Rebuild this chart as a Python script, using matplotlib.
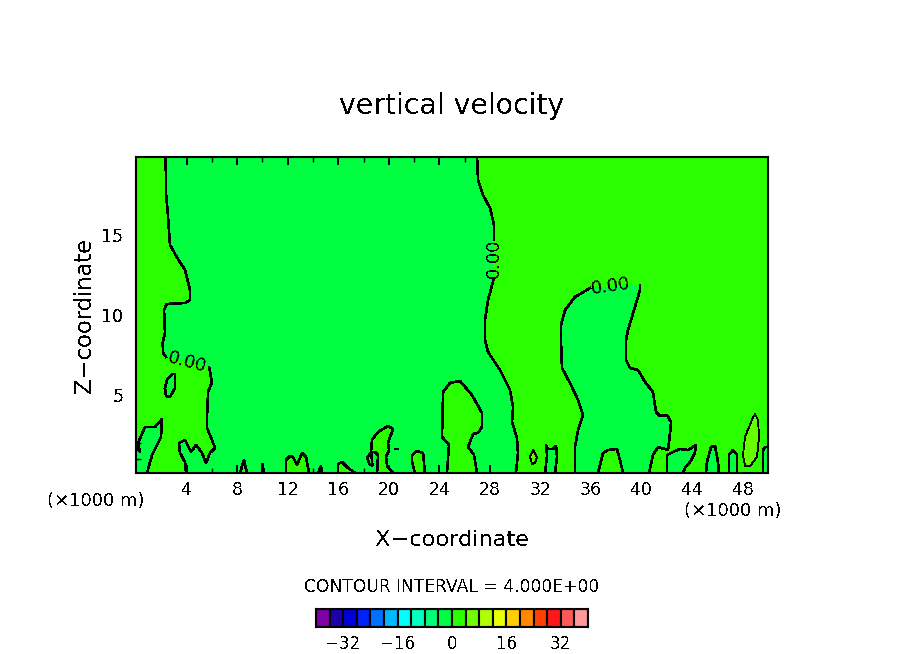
import matplotlib
matplotlib.use('Agg')
import matplotlib.pyplot as plt
import numpy as np

plt.rcParams['font.family'] = 'DejaVu Sans'
plt.rcParams['text.antialiased'] = False

# palette of the 4 m/s classes, -40 to 40
CLASS_COLORS = ['#8000a8', '#1c00a8', '#0000d8', '#0020ff', '#0070ff', '#00b8ff', '#00ffff',
                '#00ffc0', '#00ff78', '#00ff40', '#2aff00', '#70ff00', '#b0ff00', '#e8ff00',
                '#ffd000', '#ff8800', '#ff4000', '#ff1818', '#ff5858', '#ff9898']
NEG_COLOR = '#00ff40'
POS_COLOR = '#2aff00'
POS2_COLOR = '#66ff00'

CBAR_LEVELS = np.arange(-40, 41, 4)
CBAR_TICKS = [-32, -16, 0, 16, 32]
X_MAJOR = list(range(4, 49, 4))
Z_MAJOR = [5, 10, 15]
XLIM = (0, 50)
ZLIM = (0.125, 19.875)

# zero contours (x in km, z in km)
left_upper = [(2.35, 19.875), (2.37, 17.63), (2.51, 16.38), (2.69, 14.38), (3.22, 13.63), (3.88, 12.81),
              (4.27, 11.56), (4.27, 10.94), (3.88, 10.75), (2.43, 10.69), (2.22, 10.31), (2.29, 8.88),
              (2.11, 8.25), (2.14, 7.63), (2.37, 7.38)]
left_lower = [(5.78, 6.75), (6.01, 5.81), (5.70, 5.19), (5.62, 3.63), (5.62, 2.94), (6.01, 2.19),
              (6.25, 1.69), (5.85, 1.38), (5.54, 0.75), (5.22, 1.38), (4.75, 1.88), (4.35, 1.44),
              (3.88, 2.19), (3.40, 2.0), (3.48, 1.38), (3.88, 0.81), (3.96, 0.125)]
left_corner = [(0.87, 0.125), (1.27, 1.25), (1.98, 2.38), (2.06, 3.5), (1.50, 3.0), (0.71, 3.0),
               (0.16, 2.0), (0.32, 1.44), (0, 1.88)]
left_island = [(2.29, 5.44), (2.45, 5.94), (2.85, 6.31), (3.09, 6.31), (3.09, 5.44), (2.69, 4.88),
               (2.37, 4.94), (2.29, 5.44)]

right_upper = [(26.98, 19.875), (27.06, 18.44), (27.45, 17.5), (28.01, 16.69), (28.32, 15.63), (28.32, 14.69)]
right_lower = [(28.32, 12.31), (27.85, 10.94), (27.61, 9.69), (27.61, 8.44), (27.85, 7.69), (28.8, 6.56),
               (29.59, 5.31), (29.83, 4.25), (29.75, 3.31), (30.14, 2.31), (30.22, 1.38), (30.06, 0.125)]

mid_left = [(34.73, 0.125), (34.73, 1.75), (34.97, 2.81), (35.36, 3.75), (34.97, 4.69), (34.34, 5.75),
            (33.7, 6.69), (33.62, 8.44), (33.62, 9.38), (33.94, 10.31), (34.73, 11.13), (35.92, 11.69)]
mid_right = [(39.87, 11.88), (39.87, 11.56), (39.64, 10.94), (38.92, 9.06), (38.77, 8.44), (38.77, 7.19),
             (39.08, 6.69), (39.72, 6.56), (40.27, 5.81), (40.9, 5.19), (41.14, 3.94), (41.46, 3.69),
             (42.01, 3.75), (42.33, 3.31), (42.25, 2.63), (42.09, 1.56), (41.3, 1.75), (40.9, 1.25),
             (40.59, 0.125)]

# small closed cells sitting on the ground
pos_bumps = [
    [(8.23, 0.125), (8.54, 0.94), (8.78, 0.125)],
    [(9.97, 0.125), (10.0, 0.69), (10.13, 0.125)],
    [(11.87, 0.125), (11.87, 0.94), (12.18, 1.19), (12.42, 1.13), (12.74, 0.63), (13.13, 1.38),
     (13.45, 1.13), (13.69, 0.125)],
    [(14.4, 0.125), (14.64, 0.56), (14.72, 0.125)],
    [(15.98, 0.125), (15.98, 0.69), (16.3, 0.81), (16.69, 0.5), (17.33, 0.125)],
    [(19.07, 0.125), (19.15, 1.25), (18.91, 1.44), (18.6, 1.44), (18.3, 1.1), (18.45, 0.7), (18.7, 0.6),
     (18.6, 1.5), (18.67, 2.19), (19.15, 2.69), (19.94, 3.06), (20.33, 2.88), (19.94, 2.0),
     (20.02, 1.56), (19.78, 1.13), (19.86, 0.56), (20.33, 0.125)],
    [(22.07, 0.125), (21.84, 0.81), (21.84, 1.25), (22.23, 1.5), (22.71, 1.38), (22.86, 0.125)],
    [(24.6, 0.125), (24.76, 1.88), (24.21, 2.38), (24.29, 5.19), (24.84, 5.75), (25.63, 5.88),
     (26.58, 5.0), (27.37, 3.88), (27.37, 3.0), (27.06, 2.63), (26.66, 2.56), (26.27, 1.75),
     (26.74, 1.25), (26.98, 0.125)],
    [(36.55, 0.125), (36.95, 1.38), (37.34, 1.56), (38.05, 1.63), (38.29, 0.94), (38.53, 0.125)],
]
neg_bumps = [
    [(32.36, 0.125), (32.52, 1.25), (32.44, 1.88), (32.59, 1.63), (32.99, 1.63), (33.23, 1.81),
     (33.31, 1.13), (33.15, 0.125)],
    [(42.01, 0.125), (42.01, 1.25), (42.48, 1.44), (43.04, 1.63), (43.67, 1.56), (44.3, 1.88),
     (44.22, 1.38), (43.83, 0.81), (43.43, 0.44), (43.28, 0.125)],
    [(45.09, 0.125), (45.17, 0.81), (45.49, 1.75), (45.81, 1.81), (46.04, 0.81), (46.12, 0.125)],
    [(46.91, 0.125), (46.91, 1.25), (47.23, 1.56), (47.55, 1.25), (47.55, 0.125)],
    [(49.6, 0.125), (49.6, 1.56), (49.8, 1.75), (50, 1.75), (50, 0.125)],
]
pos2_cells = [
    [(31.41, 1.56), (31.72, 1.13), (31.57, 0.75), (31.33, 0.69), (31.17, 1.13), (31.41, 1.56)],
    [(48.02, 1.25), (48.18, 2.38), (48.73, 3.44), (48.97, 3.81), (49.21, 3.44), (49.29, 2.38),
     (49.13, 1.13), (48.58, 0.56), (48.18, 0.56), (48.02, 1.25)],
]
dash = [(20.49, 1.625), (20.73, 1.625)]

# contour labels: x, z, rotation
contour_labels = [(4.03, 7.06, -15), (28.32, 13.56, 90), (37.58, 11.81, 8)]


def fill_poly(ax, pts, color):
    xs, zs = zip(*pts)
    ax.fill(xs, zs, color=color, lw=0, zorder=2)


def draw_line(ax, pts, lw=1.15):
    xs, zs = zip(*pts)
    ax.plot(xs, zs, color='k', lw=lw, zorder=4, antialiased=False, solid_joinstyle='round')


fig = plt.figure(figsize=(9.04, 6.54), dpi=100)
ax = fig.add_axes([136 / 904, 1 - 473 / 654, 632 / 904, 316 / 654])
ax.set_xlim(*XLIM)
ax.set_ylim(*ZLIM)
ax.set_facecolor(NEG_COLOR)

# positive regions first, then the negative cells on top
left_region = [(0, ZLIM[1])] + left_upper + left_lower + left_corner
fill_poly(ax, left_region, POS_COLOR)
right_region = right_upper + right_lower + [(XLIM[1], ZLIM[0]), (XLIM[1], ZLIM[1])]
fill_poly(ax, right_region, POS_COLOR)
fill_poly(ax, mid_left + mid_right, NEG_COLOR)
fill_poly(ax, left_island, NEG_COLOR)
for cell in pos_bumps:
    fill_poly(ax, cell, POS_COLOR)
for cell in neg_bumps:
    fill_poly(ax, cell, NEG_COLOR)
for cell in pos2_cells:
    fill_poly(ax, cell, POS2_COLOR)
    draw_line(ax, cell, lw=0.6)

for line in [left_upper, left_lower, left_corner, left_island, right_upper, right_lower,
             mid_left, mid_right, dash] + pos_bumps + neg_bumps:
    draw_line(ax, line)

for lx, lz, rot in contour_labels:
    ax.text(lx, lz, '0.00', rotation=rot, ha='center', va='center', fontsize=13, zorder=5,
            rotation_mode='anchor')

ax.set_xticks(X_MAJOR)
ax.set_xticks(np.arange(2, 50, 4), minor=True)
ax.set_yticks(Z_MAJOR)
ax.set_yticks(np.arange(1, 20, 1), minor=True)
ax.tick_params(which='major', direction='in', length=5.8, width=1.4, top=True, right=True,
               labelsize=12.5, pad=6)
ax.tick_params(which='minor', direction='in', length=3.4, width=1, top=True, right=True)
ax.tick_params(axis='y', which='major', pad=9)
for s in ax.spines.values():
    s.set_linewidth(1.5)
    s.set_zorder(6)

fig.text(452 / 904, 1 - 106 / 654, 'vertical velocity', ha='center', va='center', fontsize=20.4)
fig.text(452 / 904, 1 - 540 / 654, 'X\u2212coordinate', ha='center', va='center', fontsize=16.2)
fig.text(84 / 904, 1 - 315 / 654, 'Z\u2212coordinate', ha='center', va='center', rotation=90, fontsize=16.3)
fig.text(96 / 904, 1 - 501 / 654, '(\u00d71000 m)', ha='center', va='center', fontsize=13)
fig.text(733 / 904, 1 - 511 / 654, '(\u00d71000 m)', ha='center', va='center', fontsize=13)
fig.text(452 / 904, 1 - 587 / 654, 'CONTOUR INTERVAL = 4.000E+00', ha='center', va='center', fontsize=12.3)

# colour key
cax = fig.add_axes([316 / 904, 1 - 627 / 654, 272 / 904, 18 / 654])
cax.bar(CBAR_LEVELS[:-1], np.ones(20), width=4, align='edge', color=CLASS_COLORS,
        edgecolor='k', linewidth=1.5)
cax.set_xlim(CBAR_LEVELS[0], CBAR_LEVELS[-1])
cax.set_ylim(0, 1)
cax.set_yticks([])
cax.set_xticks(CBAR_TICKS)
cax.set_xticklabels([str(t).replace('-', '\u2212') for t in CBAR_TICKS])
cax.tick_params(axis='x', length=0, labelsize=12, pad=5.5)
for s in cax.spines.values():
    s.set_linewidth(1.5)

fig.savefig('out.png', dpi=100)
